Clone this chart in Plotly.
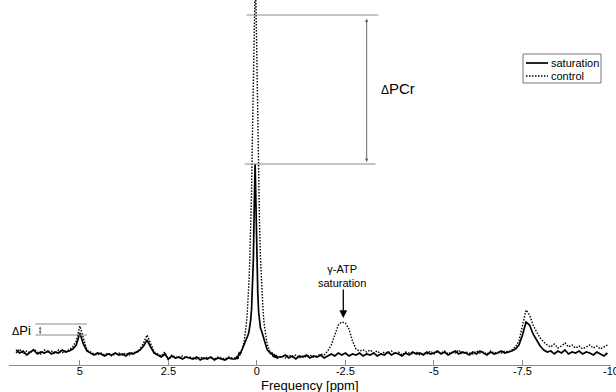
import numpy as np
import plotly.graph_objects as go

# ---------------- data (intensity in arbitrary units) ----------------
ppm_left = np.linspace(6.8, 0.7, 62)      # 6.8 ... 0.7 ppm, 0.1 ppm steps
ppm_pcr = np.linspace(0.6, -0.6, 49)      # 0.6 ... -0.6 ppm, 0.025 ppm steps
ppm_right = np.linspace(-0.7, -9.9, 93)   # -0.7 ... -9.9 ppm, 0.1 ppm steps

sat_left = [15, 12, 14, 10, 13, 15, 11, 13,
            12, 14, 11, 13, 12, 15, 13, 14, 16, 20,
            32, 21, 14, 12, 10, 12, 11, 9, 11, 10,
            12, 10, 11, 9, 12, 11, 13, 15, 19, 25,
            18, 12, 10, 8, 11, 6, 9, 7, 8, 6,
            8, 7, 6, 8, 5, 7, 6, 8, 5, 7,
            6, 5, 7, 6]
ctl_left = [12, 16, 11, 14, 12, 16, 13, 11,
            15, 12, 14, 11, 15, 12, 14, 15, 18, 24,
            39, 26, 15, 13, 11, 10, 12, 10, 12, 9,
            11, 12, 10, 12, 10, 13, 12, 16, 22, 30,
            21, 13, 11, 9, 13, 5, 10, 8, 7, 9,
            7, 8, 7, 6, 8, 6, 8, 7, 6, 8,
            7, 6, 8, 7]

sat_pcr = [6, 8, 7, 9, 12, 11, 14, 15, 17, 19,
           22, 24, 26, 28, 30, 33, 38, 45, 56, 75,
           105, 158, 201, 158, 104, 72, 53, 42, 37, 35,
           32, 28, 24, 21, 19, 17, 15, 14, 13, 12,
           11, 12, 10, 9, 10, 8, 9, 7, 8]
ctl_pcr = [7, 6, 8, 7, 9, 10, 12, 14, 17, 21,
           26, 32, 40, 50, 64, 82, 105, 135, 175, 230,
           300, 360, 380, 360, 300, 235, 180, 140, 108, 85,
           68, 54, 43, 35, 29, 24, 20, 17, 15, 13,
           12, 10, 9, 10, 8, 9, 7, 8, 7]

sat_right = [8, 10, 7, 9, 6, 9, 8, 10, 7, 9,
             8, 10, 7, 9, 11, 9, 12, 10, 12, 9,
             11, 10, 12, 9, 11, 10, 12, 9, 11, 10,
             13, 10, 12, 11, 9, 12, 10, 13, 11, 12,
             10, 13, 11, 12, 14, 11, 13, 10, 12, 14,
             11, 13, 12, 10, 13, 11, 14, 12, 10, 13,
             11, 12, 14, 12, 13, 14, 16, 20, 30, 43,
             40, 31, 25, 19, 15, 13, 14, 11, 14, 12,
             15, 11, 13, 12, 14, 11, 13, 12, 10, 13,
             11, 9, 12]
ctl_right = [9, 7, 10, 8, 10, 7, 9, 8, 10, 8,
             9, 11, 10, 14, 20, 30, 40, 43, 42, 36,
             24, 16, 14, 15, 13, 15, 12, 14, 11, 13,
             12, 14, 11, 13, 10, 13, 12, 11, 13, 10,
             12, 11, 14, 11, 13, 12, 14, 11, 13, 12,
             15, 11, 13, 12, 11, 14, 12, 13, 11, 14,
             12, 13, 12, 14, 13, 15, 18, 24, 38, 55,
             50, 40, 33, 27, 23, 20, 18, 21, 17, 19,
             22, 18, 20, 17, 19, 16, 18, 20, 17, 19,
             16, 18, 20]

tick_vals = [5, 2.5, 0, -2.5, -5, -7.5, -10]
tick_text = ["5", "2.5", "0", "-2.5", "-5", "-7.5", "-10"]
series_names = ["saturation", "control"]

ppm = np.concatenate([ppm_left, ppm_pcr, ppm_right])
saturation = sat_left + sat_pcr + sat_right
control = ctl_left + ctl_pcr + ctl_right

FONT = "Liberation Sans, Arial, sans-serif"
GREY = "#8a8a8a"
DOT = "1.5px,1.5px"

fig = go.Figure()
fig.add_trace(go.Scatter(x=ppm, y=control, mode="lines", name=series_names[1],
                         showlegend=False,
                         line=dict(color="black", width=1.4, dash=DOT)))
fig.add_trace(go.Scatter(x=ppm, y=saturation, mode="lines", name=series_names[0],
                         showlegend=False,
                         line=dict(color="black", width=1.7)))

# legend drawn as a small boxed key (paper coords of the plot area)
W, H = 602.0, 365.0
def px(x):  # pixel column -> paper x
    return (x - 9) / W
def py(y):  # pixel row -> paper y
    return 1 - y / H
fig.add_shape(type="rect", xref="paper", yref="paper",
              x0=px(523), x1=px(601), y0=py(83), y1=py(54),
              line=dict(color="#777777", width=1), fillcolor="white")
fig.add_shape(type="line", xref="paper", yref="paper",
              x0=px(526), x1=px(548), y0=py(63), y1=py(63),
              line=dict(color="black", width=1.7))
fig.add_shape(type="line", xref="paper", yref="paper",
              x0=px(526), x1=px(548), y0=py(76), y1=py(76),
              line=dict(color="black", width=1.4, dash=DOT))
for name, yy in zip(series_names, [63, 76]):
    fig.add_annotation(x=px(549), y=py(yy), xref="paper", yref="paper",
                       xanchor="left", yanchor="middle", showarrow=False,
                       text=name, font=dict(family=FONT, size=11, color="black"))

# Delta PCr markers
fig.add_shape(type="line", xref="x", yref="y", x0=0.29, x1=-3.43, y0=350, y1=350,
              line=dict(color=GREY, width=1))
fig.add_shape(type="line", xref="x", yref="y", x0=0.34, x1=-3.35, y0=201, y1=201,
              line=dict(color=GREY, width=1))
fig.add_annotation(x=-3.1, y=203, ax=-3.1, ay=348, xref="x", yref="y", axref="x", ayref="y",
                   text="", showarrow=True, arrowside="end+start", arrowhead=2,
                   arrowsize=0.7, arrowwidth=1, arrowcolor="#666666")
fig.add_annotation(x=-3.98, y=277, xref="x", yref="y", showarrow=False,
                   text="<span style='font-size:12px'>Δ</span>PCr",
                   font=dict(family=FONT, size=15, color="black"))

# Delta Pi markers
fig.add_shape(type="line", xref="x", yref="y", x0=6.25, x1=4.8, y0=41, y1=41,
              line=dict(color=GREY, width=1))
fig.add_shape(type="line", xref="x", yref="y", x0=6.25, x1=4.8, y0=30, y1=30,
              line=dict(color=GREY, width=1))
fig.add_annotation(x=6.12, y=31, ax=6.12, ay=40, xref="x", yref="y", axref="x", ayref="y",
                   text="", showarrow=True, arrowside="end+start", arrowhead=2,
                   arrowsize=0.5, arrowwidth=1, arrowcolor="#666666")
fig.add_annotation(x=6.65, y=35, xref="x", yref="y", showarrow=False,
                   text="<span style='font-size:11px'>Δ</span>Pi",
                   font=dict(family=FONT, size=13, color="black"))

# gamma-ATP saturation
fig.add_annotation(x=-2.4, y=89, xref="x", yref="y", showarrow=False,
                   text="γ-ATP<br>saturation",
                   font=dict(family=FONT, size=11, color="black"))
fig.add_annotation(x=-2.44, y=47, ax=0, ay=-30, xref="x", yref="y",
                   text="", showarrow=True, arrowhead=2, arrowsize=1.2,
                   arrowwidth=1.3, arrowcolor="black")

# axis title placed just under the tick labels
fig.add_annotation(x=px(310), y=py(385), xref="paper", yref="paper",
                   xanchor="center", yanchor="middle", showarrow=False,
                   text="Frequency [ppm]", font=dict(family=FONT, size=13, color="black"))

fig.update_layout(
    width=616, height=392,
    margin=dict(l=9, r=5, t=0, b=27, autoexpand=False),
    paper_bgcolor="white", plot_bgcolor="white",
    font=dict(family=FONT, size=11, color="black"),
    showlegend=False,
    xaxis=dict(range=[7.0, -10.0], tickvals=tick_vals, ticktext=tick_text,
               ticks="inside", ticklen=5, tickcolor=GREY, showline=True,
               linecolor=GREY, linewidth=1, showgrid=False, zeroline=False,
               automargin=False, ticklabelstandoff=-4, ticklabeloverflow="allow",
               tickfont=dict(family=FONT, size=11)),
    yaxis=dict(range=[0, 365], visible=False, showgrid=False, zeroline=False,
               automargin=False),
)

fig.write_html("out.html", config={"displayModeBar": False},
               post_script="document.body.style.margin='0px';"
                           "document.body.style.overflow='hidden';")
